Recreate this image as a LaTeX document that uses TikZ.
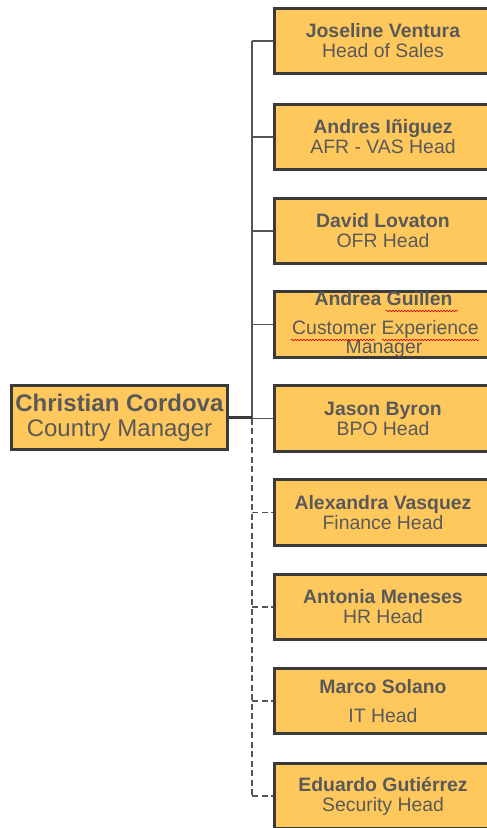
\documentclass[tikz,border=0pt]{standalone}
\usepackage{fontspec}
\setmainfont{Liberation Sans}
\usetikzlibrary{decorations.pathmorphing}
\definecolor{boxfill}{HTML}{FFC85C}
\definecolor{boxline}{HTML}{3A3A3A}
\definecolor{txtgray}{HTML}{595959}
\definecolor{conngray}{HTML}{555555}
\begin{document}
\begin{tikzpicture}[x=1pt,y=-1pt,
  orgbox/.style={draw=boxline, fill=boxfill, line width=2.8pt, minimum width=217pt,
    minimum height=65.5pt, inner sep=0pt, text=txtgray, align=center,
    font=\fontsize{19.4}{20}\selectfont},
  ceobox/.style={orgbox, minimum width=216pt, minimum height=64pt,
    font=\fontsize{24}{25}\selectfont},
  lbl/.style={anchor=base, inner sep=0pt, text=txtgray, font=\fontsize{19.4}{20}\selectfont},
  solidconn/.style={draw=conngray, line width=1.8pt},
  dashconn/.style={draw=conngray, line width=1.8pt, dash pattern=on 6pt off 3.5pt},
  ceoconn/.style={draw=boxline, line width=2.7pt},
  spell/.style={draw=red!85!black, line width=0.6pt, decorate,
    decoration={snake, amplitude=0.8pt, segment length=3pt}}]
\useasboundingbox (0,0) rectangle (487,828);
\clip (0,0) rectangle (487,828);
\fill[white] (0,0) rectangle (487,828);

\coordinate (spine) at (252,0);

\node[ceobox] (ceo) at (119.5,417.5) {\textbf{Christian Cordova}\\Country Manager};

\node[orgbox] (b1) at (383,41) {\textbf{Joseline Ventura}\\Head of Sales};
\node[orgbox] (b2) at (383,137) {\textbf{Andres Iñiguez}\\AFR - VAS Head};
\node[orgbox] (b3) at (383,231) {\textbf{David Lovaton}\\OFR Head};
\node[orgbox] (b4) at (383,324.5) {};
\node[orgbox] (b5) at (383,418.5) {\textbf{Jason Byron}\\BPO Head};
\node[orgbox] (b6) at (383,512.5) {\textbf{Alexandra Vasquez}\\Finance Head};
\node[orgbox] (b7) at (383,607) {\textbf{Antonia Meneses}\\HR Head};
\node[orgbox] (b8) at (383,701) {\textbf{Marco Solano}\\[9pt]IT Head};
\node[orgbox] (b9) at (383,796) {\textbf{Eduardo Gutiérrez}\\Security Head};

% text of the Andrea Guillen box (overflows the box)
\node[lbl] (t4a) at (383.5,305) {\textbf{Andrea Guillen}};
\node[lbl] (t4b) at (385.5,334) {Customer Experience};
\node[lbl] (t4c) at (384,353) {Manager};
\draw[spell] (386,311) -- (458,311);
\draw[spell] (291,340) -- (375,340);
\draw[spell] (382,340) -- (479,340);

% connectors
\draw[solidconn] (b1.west -| spine) -- (b5.west -| spine);
\draw[dashconn] (b5.west -| spine) -- (b9.west -| spine);
\foreach \b in {b1,b2,b3,b4,b5}{
  \draw[solidconn] (\b.west -| spine) -- (\b.west);
}
\foreach \b in {b6,b7,b8,b9}{
  \draw[dashconn] (\b.west -| spine) -- (\b.west);
}
\draw[ceoconn] (ceo.east) -- (ceo.east -| spine);
\end{tikzpicture}
\end{document}
